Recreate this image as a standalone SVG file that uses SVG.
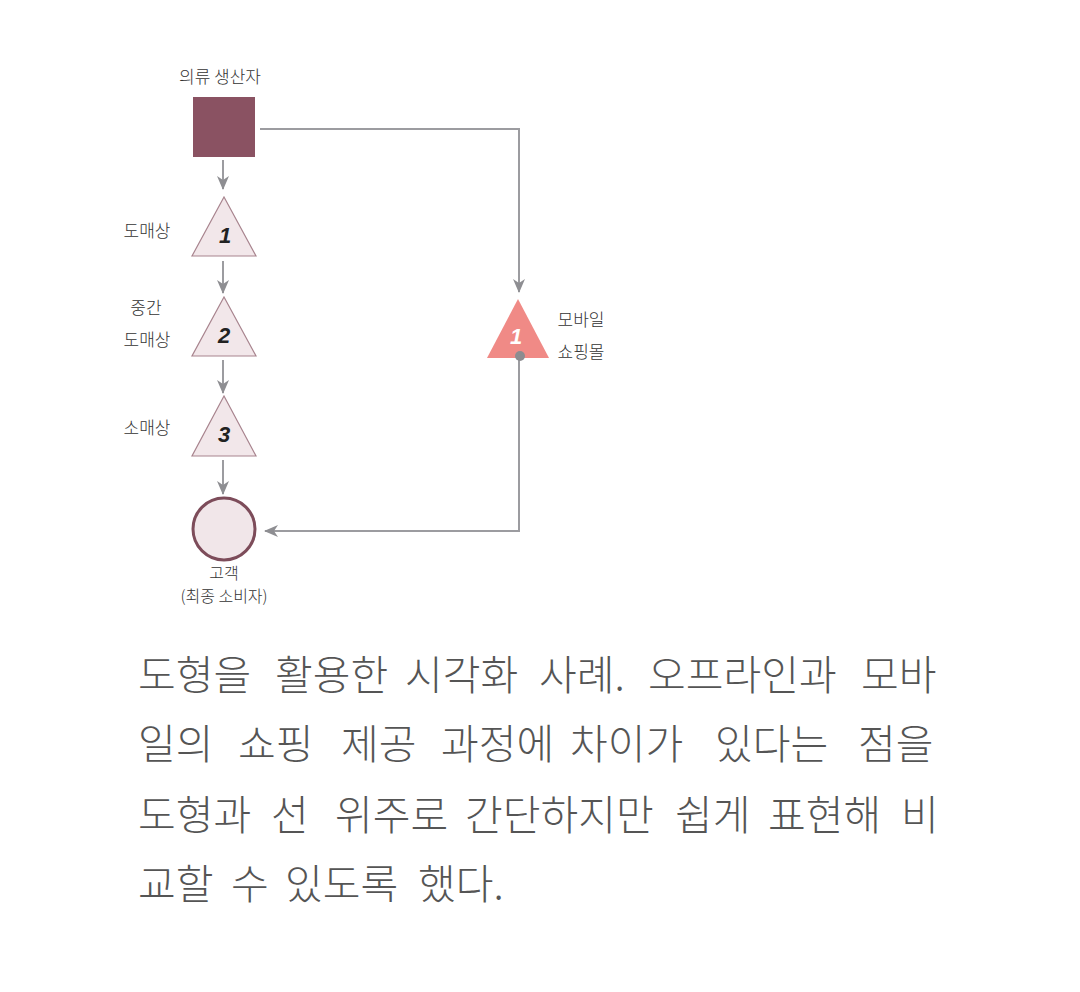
<svg xmlns="http://www.w3.org/2000/svg" width="1080" height="992" viewBox="0 0 1080 992">
<style>
text{font-family:"Noto Sans CJK KR","Noto Sans",sans-serif;}
.lbl{font-size:17px;fill:#333;text-anchor:middle;font-weight:300;}
.sm{font-size:16px;}
.num{font-family:"Liberation Sans",Arial,sans-serif;font-size:22px;font-weight:bold;font-style:italic;fill:#222;text-anchor:middle;}
.tri{fill:#f2e7ea;stroke:#a8848e;stroke-width:1.2;}
.con{fill:none;stroke:#9c9ca0;stroke-width:2;}
.cap{font-size:41px;fill:#555;font-weight:300;}
</style>
<defs>
<marker id="ah" viewBox="0 0 14 12" refX="13" refY="6" markerWidth="14" markerHeight="12" markerUnits="userSpaceOnUse" orient="auto">
<path d="M0,0 L14,6 L0,12 L4,6 Z" fill="#8e8e92"/>
</marker>
</defs>
<rect width="1080" height="992" fill="#fff"/>
<g id="connectors">
<path class="con" d="M223,160 V189" marker-end="url(#ah)"/>
<path class="con" d="M223,261 V293" marker-end="url(#ah)"/>
<path class="con" d="M223,360 V393" marker-end="url(#ah)"/>
<path class="con" d="M223,460 V494" marker-end="url(#ah)"/>
<path class="con" d="M260,129 H519 V292" marker-end="url(#ah)"/>
<path class="con" d="M519,356 V531 H265" marker-end="url(#ah)"/>
</g>
<g id="producer">
<rect x="193" y="97" width="62" height="60" fill="#8a5262"/>
<text class="lbl" x="220" y="83">의류 생산자</text>
</g>
<g id="wholesaler">
<polygon class="tri" points="224,197 256,256 192,256"/>
<text class="num" x="225" y="243">1</text>
<text class="lbl" x="147" y="237">도매상</text>
</g>
<g id="middle-wholesaler">
<polygon class="tri" points="224,297 256,356 192,356"/>
<text class="num" x="224" y="343">2</text>
<text class="lbl" x="146" y="314">중간</text>
<text class="lbl" x="147" y="346">도매상</text>
</g>
<g id="retailer">
<polygon class="tri" points="224,396 256,456 192,456"/>
<text class="num" x="224" y="442">3</text>
<text class="lbl" x="147" y="434">소매상</text>
</g>
<g id="customer">
<circle cx="224" cy="529" r="31" fill="#f1e6e9" stroke="#7d4c5a" stroke-width="3"/>
<text class="lbl sm" x="224" y="579">고객</text>
<text class="lbl sm" x="224" y="602">(최종 소비자)</text>
</g>
<g id="mobile">
<polygon points="518,299 549,358 487,358" fill="#f08a86"/>
<text class="num" x="516" y="344" style="fill:#fff">1</text>
<circle cx="520" cy="356" r="5" fill="#8c8c90"/>
<text class="lbl" x="581" y="326">모바일</text>
<text class="lbl" x="581" y="358">쇼핑몰</text>
</g>
<g id="caption">
<text class="cap" y="690"><tspan x="138">도형을</tspan><tspan x="275">활용한</tspan><tspan x="405">시각화</tspan><tspan x="539">사례.</tspan><tspan x="648">오프라인과</tspan><tspan x="861">모바</tspan></text>
<text class="cap" y="759"><tspan x="138">일의</tspan><tspan x="238">쇼핑</tspan><tspan x="341">제공</tspan><tspan x="441">과정에</tspan><tspan x="570">차이가</tspan><tspan x="715">있다는</tspan><tspan x="858">점을</tspan></text>
<text class="cap" y="830"><tspan x="138">도형과</tspan><tspan x="271">선</tspan><tspan x="335">위주로</tspan><tspan x="465">간단하지만</tspan><tspan x="675">쉽게</tspan><tspan x="768">표현해</tspan><tspan x="901">비</tspan></text>
<text class="cap" y="899"><tspan x="138">교할</tspan><tspan x="231">수</tspan><tspan x="285">있도록</tspan><tspan x="418">했다.</tspan></text>
</g>
</svg>
